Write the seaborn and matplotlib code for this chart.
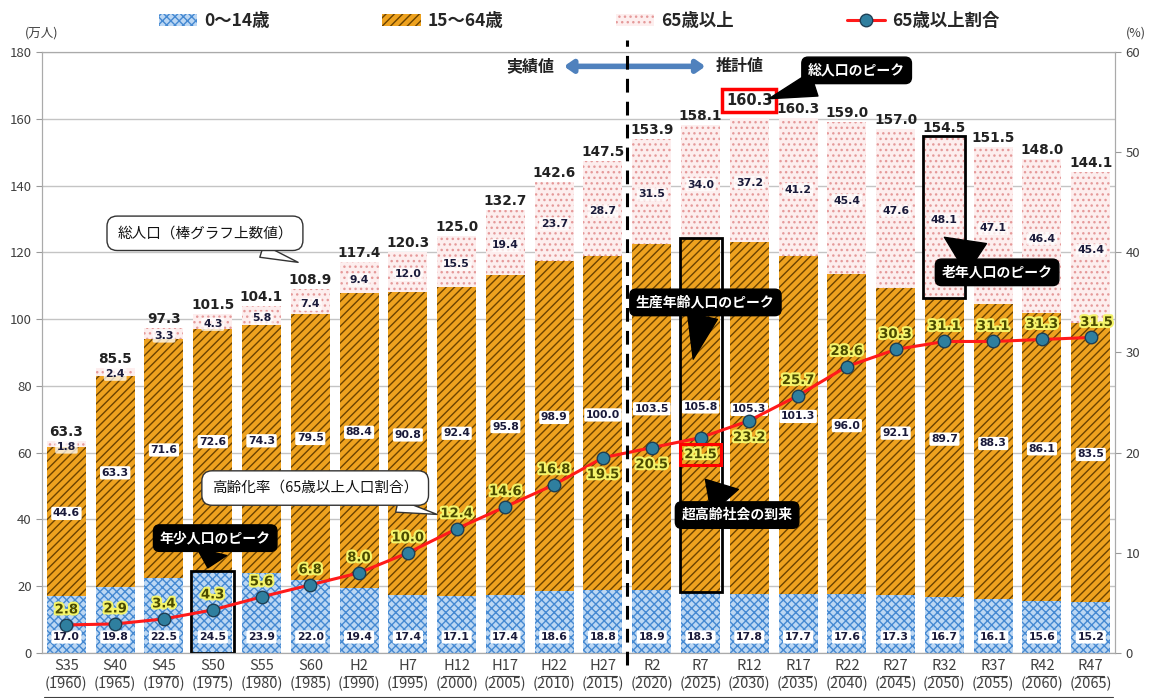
# 日本の人口推移（年齢3区分別）と高齢化率
import numpy as np
import pandas as pd
import matplotlib
matplotlib.use('Agg')
import matplotlib.pyplot as plt
import seaborn as sns
from matplotlib.patches import Patch, Rectangle
from matplotlib.lines import Line2D
import matplotlib.patheffects as pe

# data (万人 / %)
eras = ['S35', 'S40', 'S45', 'S50', 'S55', 'S60', 'H2', 'H7', 'H12', 'H17', 'H22',
        'H27', 'R2', 'R7', 'R12', 'R17', 'R22', 'R27', 'R32', 'R37', 'R42', 'R47']
years = [1960, 1965, 1970, 1975, 1980, 1985, 1990, 1995, 2000, 2005, 2010,
         2015, 2020, 2025, 2030, 2035, 2040, 2045, 2050, 2055, 2060, 2065]
young = [17.0, 19.8, 22.5, 24.5, 23.9, 22.0, 19.4, 17.4, 17.1, 17.4, 18.6,
         18.8, 18.9, 18.3, 17.8, 17.7, 17.6, 17.3, 16.7, 16.1, 15.6, 15.2]
working = [44.6, 63.3, 71.6, 72.6, 74.3, 79.5, 88.4, 90.8, 92.4, 95.8, 98.9,
           100.0, 103.5, 105.8, 105.3, 101.3, 96.0, 92.1, 89.7, 88.3, 86.1, 83.5]
elderly = [1.8, 2.4, 3.3, 4.3, 5.8, 7.4, 9.4, 12.0, 15.5, 19.4, 23.7,
           28.7, 31.5, 34.0, 37.2, 41.2, 45.4, 47.6, 48.1, 47.1, 46.4, 45.4]
totals = [63.3, 85.5, 97.3, 101.5, 104.1, 108.9, 117.4, 120.3, 125.0, 132.7, 142.6,
          147.5, 153.9, 158.1, 160.3, 160.3, 159.0, 157.0, 154.5, 151.5, 148.0, 144.1]
ratio = [2.8, 2.9, 3.4, 4.3, 5.6, 6.8, 8.0, 10.0, 12.4, 14.6, 16.8,
         19.5, 20.5, 21.5, 23.2, 25.7, 28.6, 30.3, 31.1, 31.1, 31.3, 31.5]

labels = [f'{e}\n({y})' for e, y in zip(eras, years)]
df = pd.DataFrame({'label': labels, 'young': young, 'working': working,
                   'elderly': elderly, 'total': totals, 'ratio': ratio})
df['lower'] = df['young'] + df['working']
df['stack'] = df['lower'] + df['elderly']
df['pos'] = np.arange(len(df))

sns.set_style('white')
plt.rcParams['font.family'] = ['Noto Sans CJK JP', 'DejaVu Sans']
plt.rcParams['hatch.linewidth'] = 1.0

c_young, h_young = '#bcd7f3', '#4589d2'
c_work, h_work = '#eea21f', '#6b4300'
c_old, h_old = '#fdeeee', '#e59a9a'
num_font = 'DejaVu Sans'

fig = plt.figure(figsize=(11.58, 6.98), dpi=100)
ax = fig.add_axes([0.0363, 0.0645, 0.9267, 0.861])

# stacked bars drawn as overlapping cumulative bars
sns.barplot(data=df, x='label', y='stack', color=c_old, saturation=1, width=0.8,
            edgecolor=h_old, linewidth=0, hatch='...', errorbar=None, ax=ax, zorder=2)
sns.barplot(data=df, x='label', y='lower', color=c_work, saturation=1, width=0.8,
            edgecolor=h_work, linewidth=0, hatch='////', errorbar=None, ax=ax, zorder=2)
sns.barplot(data=df, x='label', y='young', color=c_young, saturation=1, width=0.8,
            edgecolor=h_young, linewidth=0, hatch='xxxx', errorbar=None, ax=ax, zorder=2)

ax.set_xlim(-0.5, len(df) - 0.5)
ax.set_ylim(0, 180)
ax.set_yticks(range(0, 181, 20))
ax.yaxis.grid(True, color='#c4c4c4', lw=1)
ax.set_axisbelow(True)
ax.set_xlabel('')
ax.set_ylabel('')
ax.tick_params(axis='y', labelsize=9.5, labelcolor='#404040', length=4, color='#999999')
ax.tick_params(axis='x', labelsize=10.5, labelcolor='#404040', length=0, pad=4)
ax.set_xticks(df['pos'])
ax.set_xticklabels(labels, linespacing=1.35)
for s in ax.spines.values():
    s.set_color('#aaaaaa')

# underline the era labels
xt = ax.get_xaxis_transform()
for p in df['pos']:
    ax.plot([p - 0.28, p + 0.28], [-0.039, -0.039], transform=xt, color='#404040',
            lw=0.8, clip_on=False)
ax.plot([-0.45, len(df) - 0.55], [-0.073, -0.073], transform=xt, color='#404040',
        lw=0.8, clip_on=False)

seg_box = dict(boxstyle='round,pad=0.15', fc='white', ec='none')
for i, r in df.iterrows():
    ax.text(i, 4.8, f'{r.young:.1f}', ha='center', va='center', fontsize=7.8,
            fontweight='bold', family=num_font, color='#1a1a3a', bbox=seg_box, zorder=4)
    ax.text(i, r.young + r.working / 2 + 2.5, f'{r.working:.1f}', ha='center',
            va='center', fontsize=7.8, fontweight='bold', family=num_font,
            color='#1a1a3a', bbox=seg_box, zorder=4)
    ax.text(i, r.lower + r.elderly / 2 - 0.8, f'{r.elderly:.1f}', ha='center', va='center',
            fontsize=7.8, fontweight='bold', family=num_font, color='#1a1a3a',
            bbox=dict(boxstyle='round,pad=0.15', fc='white', ec='none', alpha=0.75), zorder=4)
    if i == 14:
        continue
    ax.text(i, r.stack + 0.6, f'{r.total:.1f}', ha='center', va='bottom', fontsize=9.8,
            fontweight='bold', family=num_font, color='#222222', zorder=4)

# peak total population label in a red box
peak = int(np.argmax(df['total']))
ax.text(peak, 165.5, f'{totals[peak]:.1f}', ha='center', va='center', fontsize=10.5,
        fontweight='bold', family=num_font, color='#222222', zorder=6,
        bbox=dict(boxstyle='square,pad=0.25', fc='white', ec='#ff0000', lw=2.5))

# elderly ratio line on the secondary axis
ax2 = ax.twinx()
sns.lineplot(data=df, x='pos', y='ratio', ax=ax2, color='#ff1a1a', lw=2.2, marker='o',
             markersize=9, markerfacecolor='#2f7f9f', markeredgecolor='#1d3f55',
             markeredgewidth=1, zorder=5)
ax2.set_ylim(0, 60)
ax2.set_yticks(range(0, 61, 10))
ax2.set_xlim(-0.5, len(df) - 0.5)
ax2.set_ylabel('')
ax2.tick_params(axis='y', labelsize=9.5, labelcolor='#404040', length=4, color='#999999')
for s in ax2.spines.values():
    s.set_color('#aaaaaa')

glow = [pe.withStroke(linewidth=3, foreground='#f4f46a')]
below = {11, 12, 13, 14}
for i, v in enumerate(ratio):
    dy = -1.7 if i in below else 1.5
    dx = 0.12 if i == len(ratio) - 1 else 0
    kw = {}
    if i == 13:
        kw['bbox'] = dict(boxstyle='square,pad=0.3', fc='none', ec='#ff0000', lw=2.2)
    ax2.text(i + dx, v + dy, f'{v:.1f}', ha='center', va='center', fontsize=9.5,
             fontweight='bold', family=num_font, color='#4a4a00', path_effects=glow,
             zorder=7, **kw)

# boundary between actual and projected values
ax2.plot([11.5, 11.5], [-0.02, 1.02], transform=ax2.get_xaxis_transform(), color='black',
         lw=2.2, ls=(0, (4.5, 3)), clip_on=False, zorder=8)
dc = ax.transData
ax2.annotate('', xy=(13.1, 175.7), xytext=(10.2, 175.7), xycoords=dc, textcoords=dc,
             arrowprops=dict(arrowstyle='<|-|>,head_length=0.5,head_width=0.35',
                             color='#4f81bd', lw=4, shrinkA=0, shrinkB=0))
ax2.text(9.5, 175.7, '実績値', transform=dc, ha='center', va='center', fontsize=11.5,
         fontweight='bold', color='#222222')
ax2.text(13.8, 175.7, '推計値', transform=dc, ha='center', va='center', fontsize=11.5,
         fontweight='bold', color='#222222')

# highlight boxes
hl = dict(fill=False, ec='black', lw=2, zorder=6)
yp = int(np.argmax(df['young']))
ax.add_patch(Rectangle((yp - 0.44, 0), 0.88, young[yp], **hl))
wp = int(np.argmax(df['working']))
ax.add_patch(Rectangle((wp - 0.43, young[wp]), 0.86, working[wp] + 0.3, **hl))
op = int(np.argmax(df['elderly']))
ax.add_patch(Rectangle((op - 0.43, df['lower'][op]), 0.86, elderly[op] + 0.4, **hl))


def black_note(text, tip, center, tw=2.2):
    ax2.annotate(text, xy=tip, xytext=center, xycoords=dc, textcoords=dc, ha='center',
                 va='center', fontsize=10, fontweight='bold', color='white', zorder=9,
                 bbox=dict(boxstyle='round,pad=0.45', fc='black', ec='black'),
                 arrowprops=dict(arrowstyle=f'wedge,tail_width={tw}', fc='black',
                                 ec='black', shrinkA=0, shrinkB=0))


def white_note(text, tip, center):
    ax2.annotate(text, xy=tip, xytext=center, xycoords=dc, textcoords=dc, ha='center',
                 va='center', fontsize=10.5, color='#111111', zorder=9,
                 bbox=dict(boxstyle='round,pad=0.7', fc='white', ec='#333333', lw=1),
                 arrowprops=dict(arrowstyle='wedge,tail_width=0.9', fc='white',
                                 ec='#333333', lw=1, shrinkA=0, shrinkB=0))


black_note('総人口のピーク', (14.4, 166), (16.2, 174.5), tw=1.8)
black_note('年少人口のピーク', (2.9, 25.5), (3.05, 34.4))
black_note('生産年齢人口のピーク', (12.85, 88), (13.1, 105))
black_note('超高齢社会の到来', (13.1, 52), (13.75, 41.3), tw=2.6)
black_note('老年人口のピーク', (18.0, 124.5), (19.08, 114), tw=2.6)
white_note('総人口（棒グラフ上数値）', (4.75, 117), (2.84, 125.7))
white_note('高齢化率（65歳以上人口割合）', (7.6, 41.5), (5.1, 49.4))

fig.text(0.036, 0.953, '(万人)', ha='center', va='center', fontsize=9, color='#404040')
fig.text(0.981, 0.953, '(%)', ha='center', va='center', fontsize=9, color='#404040')

handles = [Patch(facecolor=c_young, edgecolor=h_young, hatch='xxxx', lw=0),
           Patch(facecolor=c_work, edgecolor=h_work, hatch='////', lw=0),
           Patch(facecolor=c_old, edgecolor=h_old, hatch='...', lw=0),
           Line2D([], [], color='#ff1a1a', lw=2.2, marker='o', markersize=9,
                  markerfacecolor='#2f7f9f', markeredgecolor='#1d3f55')]
fig.legend(handles, ['0～14歳', '15～64歳', '65歳以上', '65歳以上割合'], loc='upper center',
           bbox_to_anchor=(0.5, 1.005), ncol=4, frameon=False, columnspacing=6.5,
           handlelength=2.2, handletextpad=0.4, prop={'weight': 'bold', 'size': 12.5})

fig.savefig('out.png', dpi=100)
